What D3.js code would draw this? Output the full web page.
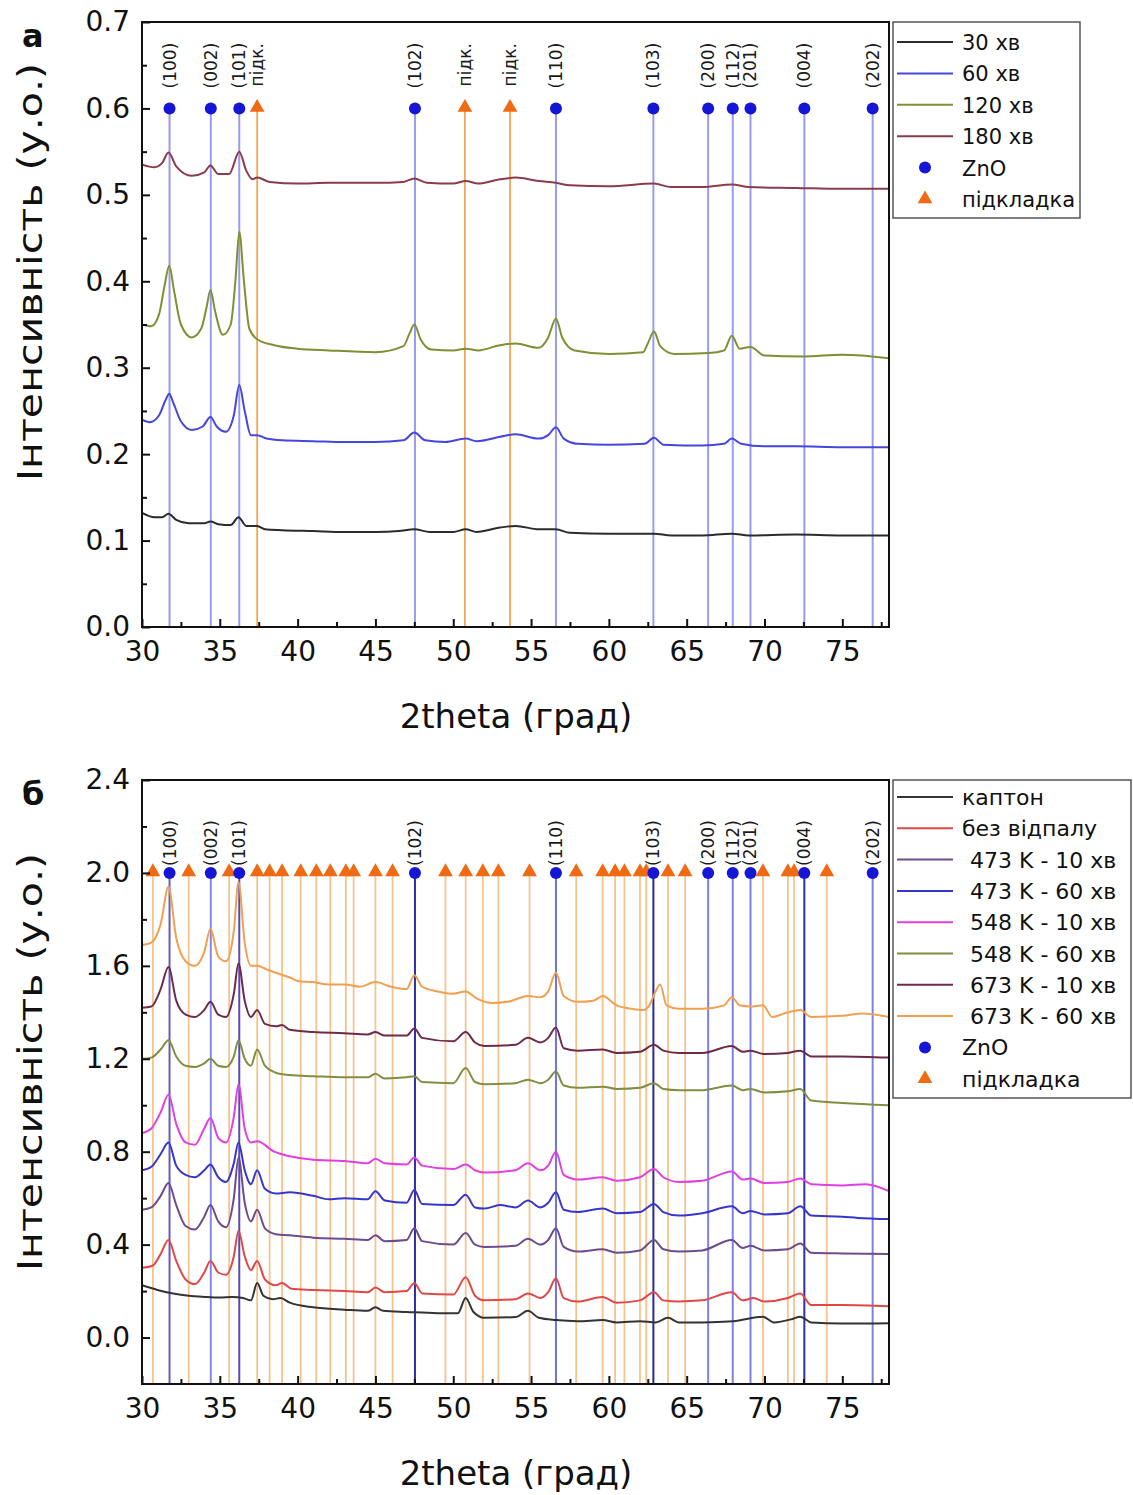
<!DOCTYPE html>
<html><head><meta charset="utf-8">
<script src="https://cdn.jsdelivr.net/npm/d3@7"></script>
<style>body{margin:0;background:#fff}svg{display:block}text{font-family:"DejaVu Sans",sans-serif}</style>
</head><body>
<svg id="c" width="1133" height="1495"></svg>
<script>
// ---------- DATA ----------
const znoPeaks = [31.77, 34.42, 36.25, 47.54, 56.6, 62.86, 66.38, 67.96, 69.1, 72.56, 76.95];
const znoLabels = ["(100)","(002)","(101)","(102)","(110)","(103)","(200)","(112)","(201)","(004)","(202)"];
const subPeaksA = [37.4, 50.75, 53.65];
const subLabelA = "підк.";
const subPeaksB = [30.7, 33.0, 35.6, 37.4, 38.2, 39.0, 40.2, 41.2, 42.1, 43.1, 43.6, 45.0, 46.1, 49.5, 50.8, 51.9, 52.9, 54.9, 57.9, 59.6, 60.4, 61.0, 62.0, 62.4, 63.8, 64.9, 69.9, 71.5, 71.9, 74.0];
const xTicks = [30,35,40,45,50,55,60,65,70,75];
const yTicksA = [0,0.1,0.2,0.3,0.4,0.5,0.6,0.7];
const yTicksB = [0,0.4,0.8,1.2,1.6,2.0,2.4];

// panel a series
const a30 = [[30,0.132],[30.8,0.127],[31.3,0.127],[31.7,0.131],[32.2,0.124],[33,0.12],[34,0.12],[34.4,0.122],[34.9,0.119],[35.7,0.118],[36.2,0.127],[36.7,0.117],[37.4,0.117],[37.9,0.113],[39,0.112],[41,0.111],[43,0.11],[45,0.11],[46.5,0.111],[47.5,0.113],[48.5,0.11],[50,0.11],[50.8,0.113],[51.5,0.11],[53,0.115],[54,0.117],[55.5,0.113],[56.6,0.113],[57.5,0.109],[60,0.108],[62.9,0.108],[64,0.106],[66,0.106],[67.9,0.108],[69,0.106],[72,0.107],[75,0.106],[78,0.106]];
const a60 = [[30,0.24],[30.5,0.237],[31.1,0.245],[31.5,0.262],[31.75,0.27],[32,0.26],[32.5,0.238],[33.2,0.228],[33.9,0.232],[34.4,0.243],[34.8,0.232],[35.4,0.226],[35.9,0.245],[36.25,0.28],[36.6,0.25],[37,0.222],[37.4,0.222],[38,0.218],[39,0.216],[41,0.215],[43,0.214],[45,0.214],[46.8,0.216],[47.5,0.225],[48.2,0.216],[49.5,0.214],[50.8,0.218],[51.5,0.215],[53,0.22],[54,0.223],[55.5,0.218],[56.1,0.222],[56.6,0.231],[57.1,0.218],[58,0.212],[60,0.211],[62.3,0.212],[62.9,0.219],[63.5,0.211],[66,0.21],[67.4,0.212],[67.9,0.218],[68.5,0.212],[70,0.209],[72,0.209],[75,0.208],[78,0.208]];
const a120 = [[30,0.35],[30.6,0.348],[31.1,0.362],[31.45,0.395],[31.75,0.418],[32.05,0.39],[32.5,0.35],[33.2,0.335],[33.8,0.345],[34.15,0.37],[34.4,0.39],[34.7,0.365],[35.2,0.338],[35.7,0.35],[36.0,0.4],[36.25,0.457],[36.55,0.4],[36.9,0.345],[37.4,0.333],[38.5,0.326],[40,0.322],[42,0.32],[45,0.318],[46.8,0.325],[47.2,0.34],[47.5,0.35],[47.9,0.333],[48.6,0.321],[50,0.32],[50.8,0.322],[51.6,0.32],[53,0.326],[54,0.328],[55.5,0.323],[56.1,0.335],[56.6,0.357],[57.0,0.335],[57.8,0.32],[60,0.316],[62.2,0.318],[62.5,0.328],[62.9,0.342],[63.3,0.325],[64.2,0.316],[66.4,0.317],[67.4,0.32],[67.9,0.337],[68.4,0.322],[69.1,0.324],[70,0.314],[72.5,0.313],[75,0.315],[78,0.311]];
const a180 = [[30,0.535],[30.8,0.532],[31.3,0.537],[31.7,0.549],[32.2,0.533],[33.2,0.522],[34,0.526],[34.4,0.534],[34.9,0.524],[35.6,0.524],[36.25,0.55],[36.7,0.528],[37.1,0.518],[37.4,0.52],[38.2,0.515],[40,0.513],[42,0.514],[45,0.514],[46.8,0.515],[47.5,0.519],[48.3,0.514],[50,0.513],[50.8,0.516],[51.6,0.513],[53,0.518],[54,0.52],[55.5,0.516],[56.6,0.514],[57.5,0.511],[60,0.51],[62.9,0.513],[64,0.509],[66,0.509],[67.9,0.512],[69,0.509],[72,0.508],[75,0.507],[78,0.507]];

// panel b series
const bKapton = [[30,0.225],[31,0.205],[32,0.19],[33,0.18],[34,0.175],[35,0.172],[35.8,0.175],[36.5,0.17],[37,0.16],[37.4,0.235],[37.8,0.18],[38.4,0.165],[38.9,0.17],[39.5,0.15],[41,0.13],[43,0.12],[44.5,0.115],[45,0.13],[45.5,0.115],[47,0.11],[49,0.105],[50.3,0.105],[50.8,0.17],[51.3,0.11],[52,0.085],[54,0.088],[54.8,0.115],[55.5,0.085],[56.6,0.075],[58,0.07],[59.6,0.075],[60.5,0.065],[62,0.07],[63,0.065],[63.8,0.085],[64.5,0.065],[66,0.065],[68,0.07],[69.9,0.09],[70.6,0.065],[71.8,0.08],[72.3,0.09],[73,0.065],[75,0.06],[78,0.062]];
const bRaw = [[30,0.3],[30.7,0.31],[31.2,0.36],[31.7,0.42],[32.2,0.33],[32.8,0.25],[33.4,0.23],[34,0.28],[34.4,0.33],[34.9,0.28],[35.4,0.27],[35.9,0.35],[36.2,0.46],[36.6,0.35],[37.0,0.29],[37.4,0.33],[37.9,0.25],[38.6,0.225],[39,0.235],[39.6,0.21],[41,0.205],[43,0.2],[44.5,0.195],[45,0.215],[45.6,0.195],[47,0.2],[47.5,0.235],[48,0.19],[50,0.185],[50.8,0.26],[51.4,0.18],[52,0.16],[54,0.165],[54.8,0.19],[55.6,0.17],[56.1,0.195],[56.6,0.255],[57.1,0.17],[58,0.155],[59.6,0.175],[60.5,0.15],[62,0.16],[62.9,0.195],[63.5,0.16],[64.5,0.155],[66,0.16],[67.9,0.195],[68.6,0.16],[69.3,0.17],[70,0.155],[71.5,0.17],[72.3,0.19],[73,0.14],[75,0.14],[78,0.135]];
const b473_10 = [[30,0.55],[30.6,0.56],[31.2,0.61],[31.7,0.665],[32.2,0.57],[32.8,0.48],[33.4,0.465],[34,0.52],[34.4,0.57],[34.9,0.5],[35.4,0.475],[35.9,0.6],[36.2,0.775],[36.6,0.58],[37.0,0.5],[37.4,0.55],[37.9,0.47],[38.6,0.445],[39.5,0.44],[41,0.43],[43,0.425],[44.5,0.42],[45,0.44],[45.6,0.415],[47,0.42],[47.5,0.47],[48,0.415],[50,0.4],[50.8,0.45],[51.4,0.4],[52,0.39],[54,0.395],[54.8,0.425],[55.6,0.4],[56.1,0.42],[56.6,0.47],[57.1,0.39],[58,0.37],[59.6,0.38],[60.5,0.365],[62,0.375],[62.9,0.42],[63.5,0.38],[64.5,0.37],[66,0.375],[67.9,0.42],[68.6,0.385],[69.1,0.395],[70,0.375],[71.5,0.38],[72.3,0.405],[73,0.365],[75,0.362],[78,0.36]];
const b473_60 = [[30,0.72],[30.6,0.735],[31.2,0.79],[31.7,0.84],[32.2,0.74],[32.8,0.7],[33.4,0.69],[34,0.72],[34.4,0.745],[34.9,0.69],[35.4,0.67],[35.9,0.75],[36.2,0.84],[36.6,0.72],[37.0,0.66],[37.4,0.72],[37.9,0.64],[38.6,0.62],[39.5,0.625],[41,0.61],[42,0.595],[43,0.6],[44.5,0.595],[45,0.63],[45.6,0.59],[47,0.58],[47.5,0.635],[48,0.575],[50,0.57],[50.8,0.615],[51.4,0.56],[52,0.555],[53,0.57],[54,0.56],[54.8,0.59],[55.6,0.56],[56.1,0.58],[56.6,0.625],[57.1,0.55],[58,0.54],[59.6,0.555],[60.5,0.535],[62,0.54],[62.9,0.575],[63.5,0.54],[64.5,0.525],[66,0.535],[67.9,0.565],[68.6,0.535],[69.1,0.545],[70,0.53],[71.5,0.535],[72.3,0.565],[73,0.525],[75,0.52],[76,0.515],[78,0.51]];
const b548_10 = [[30,0.88],[30.6,0.9],[31.2,0.97],[31.7,1.045],[32.2,0.92],[32.8,0.84],[33.4,0.83],[34,0.9],[34.4,0.945],[34.9,0.86],[35.4,0.84],[35.9,0.95],[36.2,1.09],[36.6,0.9],[37.0,0.84],[37.4,0.845],[38.5,0.8],[39.5,0.78],[41,0.765],[43,0.76],[44.5,0.75],[45,0.77],[45.6,0.75],[47,0.745],[47.5,0.775],[48,0.74],[50,0.725],[50.8,0.745],[51.4,0.72],[52,0.71],[54,0.72],[54.8,0.75],[55.6,0.72],[56.1,0.74],[56.6,0.8],[57.1,0.7],[58,0.68],[59.6,0.69],[60.5,0.675],[62,0.69],[62.9,0.725],[63.5,0.69],[64.5,0.67],[66,0.675],[67.9,0.715],[68.6,0.68],[69.1,0.685],[70,0.665],[71.5,0.67],[72.3,0.685],[73,0.66],[75,0.655],[76.5,0.66],[78,0.63]];
const b548_60 = [[30,1.2],[30.6,1.205],[31.2,1.24],[31.7,1.28],[32.2,1.21],[32.8,1.17],[33.4,1.165],[34,1.18],[34.4,1.2],[34.9,1.17],[35.4,1.165],[35.9,1.21],[36.2,1.28],[36.6,1.2],[37.0,1.17],[37.4,1.24],[37.9,1.17],[38.6,1.14],[39.5,1.13],[41,1.125],[43,1.12],[44.5,1.12],[45,1.135],[45.6,1.115],[47,1.12],[47.5,1.125],[48,1.1],[50,1.095],[50.8,1.16],[51.4,1.1],[52,1.09],[54,1.095],[54.8,1.11],[55.6,1.095],[56.1,1.11],[56.6,1.145],[57.1,1.085],[58,1.075],[59.6,1.08],[60.5,1.07],[62,1.075],[62.9,1.095],[63.5,1.07],[64.5,1.065],[66,1.065],[67.9,1.085],[68.6,1.065],[69.1,1.07],[70,1.055],[71.5,1.06],[72.3,1.07],[73,1.02],[75,1.01],[78,1.0]];
const b673_10 = [[30,1.42],[30.6,1.425],[31.2,1.5],[31.7,1.595],[32.2,1.45],[32.8,1.39],[33.4,1.38],[34,1.41],[34.4,1.445],[34.9,1.39],[35.4,1.38],[35.9,1.48],[36.2,1.61],[36.6,1.45],[37.0,1.38],[37.4,1.41],[37.9,1.35],[38.6,1.34],[39,1.345],[39.5,1.325],[41,1.315],[43,1.31],[44.5,1.305],[45,1.315],[45.6,1.3],[47,1.3],[47.5,1.33],[48,1.29],[50,1.275],[50.8,1.315],[51.4,1.27],[52,1.255],[54,1.26],[54.8,1.29],[55.6,1.27],[56.1,1.29],[56.6,1.335],[57.1,1.245],[58,1.235],[59.6,1.24],[60.5,1.225],[62,1.23],[62.9,1.26],[63.5,1.235],[64.5,1.225],[66,1.225],[67.9,1.255],[68.6,1.23],[69.1,1.235],[70,1.22],[71.5,1.225],[72.3,1.235],[73,1.21],[75,1.21],[78,1.205]];
const b673_60 = [[30,1.69],[30.6,1.7],[31.2,1.78],[31.7,1.94],[32.2,1.72],[32.8,1.62],[33.4,1.6],[34,1.66],[34.4,1.76],[34.9,1.64],[35.4,1.62],[35.9,1.75],[36.2,1.96],[36.6,1.7],[37.0,1.6],[37.4,1.6],[38,1.585],[38.6,1.57],[39.5,1.55],[40,1.535],[41,1.53],[42,1.52],[43,1.52],[44,1.51],[45,1.53],[46,1.51],[47,1.5],[47.5,1.56],[48,1.51],[49,1.49],[50,1.48],[50.8,1.49],[51.5,1.46],[52.5,1.44],[53.5,1.445],[54.8,1.47],[55.6,1.465],[56.1,1.49],[56.6,1.57],[57.1,1.47],[58,1.445],[59,1.45],[59.6,1.47],[60.5,1.43],[61.5,1.415],[62.2,1.41],[62.6,1.43],[63,1.49],[63.3,1.52],[63.7,1.43],[64.5,1.415],[66,1.415],[67.4,1.43],[67.9,1.465],[68.4,1.43],[69.1,1.425],[69.9,1.43],[70.5,1.38],[71.5,1.4],[72.3,1.41],[73,1.38],[75,1.385],[76.3,1.395],[78,1.38]];

const namesA = ["30 хв","60 хв","120 хв","180 хв"];
const namesB = ["каптон","без відпалу"," 473 K - 10 хв"," 473 K - 60 хв"," 548 K - 10 хв"," 548 K - 60 хв"," 673 K - 10 хв"," 673 K - 60 хв"];

// ---------- STYLE ----------
const colorsA = ["#2b2b2b","#4646dc","#7f8f33","#8a3c4c"];
const colorsB = ["#333333","#e04848","#6c4c8c","#3636cc","#e040e0","#7f8f40","#6e2a4a","#f0a050"];
const seriesA = [a30,a60,a120,a180];
const seriesB = [bKapton,bRaw,b473_10,b473_60,b548_10,b548_60,b673_10,b673_60];
const znoColB = ["#6a5ab8","#8686e2","#5a4ab0","#2e2ea0","#7272d8","#2a2a90","#8080e0","#8080e0","#8080e0","#3030a0","#8080e0"];

const svg = d3.select("#c");
const X0 = 142, X1 = 889;

function panel(cfg){
  const x = d3.scaleLinear([30,78],[X0,X1]);
  const y = d3.scaleLinear(cfg.ydom,[cfg.yb,cfg.yt]);
  const g = svg.append("g");
  const markY = y(cfg.markVal);
  cfg.subs.forEach(p=>{
    g.append("line").attr("x1",x(p)).attr("x2",x(p)).attr("y1",markY).attr("y2",cfg.yb)
     .attr("stroke",cfg.subLine).attr("stroke-width",1.8);
  });
  znoPeaks.forEach((p,i)=>{
    g.append("line").attr("x1",x(p)).attr("x2",x(p)).attr("y1",markY).attr("y2",cfg.yb)
     .attr("stroke",cfg.znoLine[i]).attr("stroke-width",cfg.znoW);
  });
  const line = d3.line().x(d=>x(d[0])).y(d=>y(d[1])).curve(d3.curveMonotoneX);
  cfg.series.forEach((s,i)=>{
    g.append("path").attr("d",line(s)).attr("fill","none").attr("stroke",cfg.colors[i]).attr("stroke-width",2);
  });
  cfg.subs.forEach(p=>{
    g.append("path").attr("d",d3.symbol(d3.symbolTriangle,95)()).attr("transform",`translate(${x(p)},${markY-1})`).attr("fill","#f06a14");
  });
  znoPeaks.forEach(p=>{
    g.append("circle").attr("cx",x(p)).attr("cy",markY).attr("r",6).attr("fill","#1515d6");
  });
  znoPeaks.forEach((p,i)=>{
    g.append("text").attr("transform",`translate(${x(p)+6},${markY-cfg.labGap}) rotate(-90)`)
     .attr("font-size",17).attr("fill","#1a1a1a").text(znoLabels[i]);
  });
  if(cfg.subLabels){
    cfg.subs.forEach(p=>{
      g.append("text").attr("transform",`translate(${x(p)+6},${markY-cfg.labGap-2}) rotate(-90)`)
       .attr("font-size",17).attr("fill","#1a1a1a").text(subLabelA);
    });
  }
  const ax = g.append("g").attr("transform",`translate(0,${cfg.yb})`)
    .call(d3.axisBottom(x).tickValues(xTicks).tickSize(-8).tickPadding(14).tickFormat(d3.format("d")));
  const axm = g.append("g").attr("transform",`translate(0,${cfg.yb})`)
    .call(d3.axisBottom(x).tickValues(xTicks.map(v=>v+2.5)).tickSize(-5).tickFormat(""));
  const ay = g.append("g").attr("transform",`translate(${X0},0)`)
    .call(d3.axisLeft(y).tickValues(cfg.yticks).tickSize(-8).tickPadding(12).tickFormat(d3.format(".1f")));
  const aym = g.append("g").attr("transform",`translate(${X0},0)`)
    .call(d3.axisLeft(y).tickValues(cfg.yminor).tickSize(-5).tickFormat(""));
  [ax,axm,ay,aym].forEach(a=>{a.select(".domain").remove();a.selectAll("line").attr("stroke","#111").attr("stroke-width",2);
    a.selectAll("text").attr("font-size",28).attr("fill","#111").attr("font-family","DejaVu Sans");});
  g.append("rect").attr("x",X0).attr("y",cfg.yt).attr("width",X1-X0).attr("height",cfg.yb-cfg.yt)
   .attr("fill","none").attr("stroke","#111").attr("stroke-width",2);
  g.append("text").attr("x",516).attr("y",cfg.yb+101).attr("text-anchor","middle").attr("font-size",34).attr("fill","#111").text("2theta (град)");
  g.append("text").attr("transform",`translate(42,${cfg.ytitle}) rotate(-90)`).attr("text-anchor","middle")
   .attr("font-size",34).attr("textLength",418).attr("lengthAdjust","spacingAndGlyphs").attr("fill","#111").text("Інтенсивність (у.о.)");
  g.append("text").attr("x",22).attr("y",cfg.yt+25).attr("font-size",32).attr("font-weight","bold").attr("fill","#111").text(cfg.letter);
  const L = cfg.legend;
  g.append("rect").attr("x",893).attr("y",cfg.yt).attr("width",L.w).attr("height",L.h).attr("fill","#fff").attr("stroke","#555").attr("stroke-width",1.5);
  cfg.names.forEach((n,i)=>{
    const yy = cfg.yt + L.first + i*L.step;
    g.append("line").attr("x1",897).attr("x2",953).attr("y1",yy).attr("y2",yy).attr("stroke",cfg.colors[i]).attr("stroke-width",2);
    g.append("text").attr("x",n.startsWith(" ")?970:962).attr("y",yy+8).attr("font-size",L.fs).attr("fill","#111").text(n.trim());
  });
  const k = cfg.names.length;
  const yz = cfg.yt + L.first + k*L.step, yt2 = yz + L.step;
  g.append("circle").attr("cx",925).attr("cy",yz).attr("r",6).attr("fill","#1515d6");
  g.append("text").attr("x",962).attr("y",yz+8).attr("font-size",L.fs).attr("fill","#111").text("ZnO");
  g.append("path").attr("d",d3.symbol(d3.symbolTriangle,95)()).attr("transform",`translate(925,${yt2})`).attr("fill","#f06a14");
  g.append("text").attr("x",962).attr("y",yt2+8).attr("font-size",L.fs).attr("fill","#111").text("підкладка");
}

panel({ydom:[0,0.7],yb:627,yt:22,markVal:0.6,subs:subPeaksA,subLabels:true,subLine:"#f2a65a",
  znoLine:znoPeaks.map(()=>"#9a9aee"),znoW:2,series:seriesA,colors:colorsA,labGap:20,
  yticks:yTicksA,yminor:[0.05,0.15,0.25,0.35,0.45,0.55,0.65],ytitle:272,letter:"а",
  names:namesA,legend:{w:187,h:196,first:20,step:31.4,fs:21}});
panel({ydom:[-0.2,2.4],yb:1384,yt:780,markVal:2.0,subs:subPeaksB,subLabels:false,subLine:"#f5c48e",
  znoLine:znoColB,znoW:2,series:seriesB,colors:colorsB,labGap:7,
  yticks:yTicksB,yminor:[0.2,0.6,1.0,1.4,1.8,2.2],ytitle:1062,letter:"б",
  names:namesB,legend:{w:238,h:318,first:17,step:31.3,fs:22}});
</script>
</body></html>
